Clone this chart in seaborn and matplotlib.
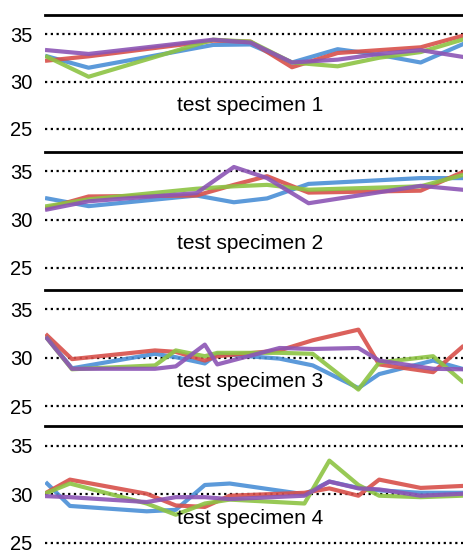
import pandas as pd
import seaborn as sns
import matplotlib.pyplot as plt

# measurement times (relative position along the run, 0-100)
x1 = [0, 10, 40, 49, 59, 70, 80, 90, 100]
x2 = [0, 10, 36, 45, 53, 63, 90, 100]
x3 = [0, 6, 26, 31, 38, 41, 56, 64, 75, 80, 93, 100]
x4 = [0, 5.5, 24, 31, 38, 44, 62, 68, 75, 80, 90, 100]

# specimen 1
blue1 = [32.65, 31.45, 33.85, 33.9, 32.0, 33.4, 32.8, 32.0, 33.9]
red1 = [32.2, 32.65, 34.3, 34.2, 31.5, 33.0, 33.3, 33.6, 34.8]
green1 = [32.6, 30.5, 34.4, 34.2, 32.0, 31.6, 32.5, 33.1, 34.4]
purple1 = [33.3, 32.9, 34.4, 34.1, 32.0, 32.3, 32.9, 33.3, 32.6]

# specimen 2
blue2 = [32.2, 31.4, 32.5, 31.8, 32.2, 33.7, 34.3, 34.3]
red2 = [31.2, 32.4, 32.5, 33.6, 34.5, 32.8, 33.0, 34.9]
green2 = [31.4, 32.1, 33.2, 33.45, 33.6, 33.1, 33.45, 34.6]
purple2 = [31.05, 31.9, 32.75, 35.45, 34.3, 31.7, 33.5, 33.1]

# specimen 3
blue3 = [32.05, 28.9, 30.4, 30.05, 29.4, 30.4, 29.9, 29.2, 26.85, 28.3, 29.7, 28.85]
red3 = [32.3, 29.85, 30.75, 30.6, 29.7, 30.15, 30.75, 31.8, 32.9, 29.3, 28.5, 31.1]
green3 = [32.0, 28.8, 29.2, 30.75, 30.15, 30.5, 30.5, 30.4, 26.7, 29.5, 30.15, 27.55]
purple3 = [32.0, 28.85, 28.85, 29.1, 31.35, 29.3, 31.0, 30.9, 31.0, 29.7, 28.85, 28.8]

# specimen 4
blue4 = [31.1, 28.8, 28.25, 28.4, 30.95, 31.1, 30.0, 31.3, 30.65, 30.4, 30.15, 30.15]
red4 = [30.2, 31.5, 30.05, 28.85, 28.7, 29.85, 30.15, 30.6, 29.85, 31.5, 30.65, 30.85]
green4 = [30.15, 31.1, 29.05, 27.9, 29.05, 29.45, 29.05, 33.45, 30.95, 29.85, 29.7, 29.85]
purple4 = [29.8, 29.7, 29.2, 29.7, 29.7, 29.5, 29.85, 31.3, 30.6, 30.5, 29.85, 30.05]

titles = ["test specimen 1", "test specimen 2", "test specimen 3", "test specimen 4"]
yticks = [25, 30, 35]

panels = [
    (x1, [blue1, red1, green1, purple1]),
    (x2, [blue2, red2, green2, purple2]),
    (x3, [blue3, red3, green3, purple3]),
    (x4, [blue4, red4, green4, purple4]),
]
names = ["blue", "red", "green", "purple"]
palette = {"blue": "#4a8fd6", "red": "#d8504a", "green": "#8dc343", "purple": "#8c55b5"}

plt.rcParams['font.family'] = ['Liberation Sans', 'DejaVu Sans']

fig = plt.figure(figsize=(4.63, 5.59), dpi=100)
W, H = 463, 559
tops = [15, 152, 290, 426]
y25 = [129, 268, 406, 543]
ymin, ymax = 24.3, 37

for i, (xs, series) in enumerate(panels):
    rows = []
    for name, vals in zip(names, series):
        for xv, yv in zip(xs, vals):
            rows.append({"t": xv, "temp": yv, "series": name})
    df = pd.DataFrame(rows)

    s = (y25[i] - tops[i]) / (ymax - 25)
    bot = y25[i] + (25 - ymin) * s
    ax = fig.add_axes([45 / W, 1 - bot / H, 1 - 45 / W, (bot - tops[i]) / H])

    for yv in yticks:
        ax.axhline(yv, color="black", ls=(0, (1, 1.6)), lw=1.6, zorder=1)

    sns.lineplot(data=df, x="t", y="temp", hue="series", palette=palette,
                 hue_order=names, lw=3, alpha=0.9, legend=False, ax=ax,
                 sort=False, zorder=3)

    ax.set_xlim(-0.5, 100.2)
    ax.set_ylim(ymin, ymax)
    ax.set_yticks(yticks)
    ax.set_xticks([])
    ax.set_xlabel("")
    ax.set_ylabel("")
    ax.tick_params(axis="y", length=0, labelsize=14.5, pad=9)
    for sp in ["left", "right", "bottom"]:
        ax.spines[sp].set_visible(False)
    ax.spines["top"].set_linewidth(2)
    ax.patch.set_alpha(0)
    ax.text(49, 27.5, titles[i], ha="center", va="center", fontsize=15, zorder=4)

fig.savefig("out.png", dpi=100)
